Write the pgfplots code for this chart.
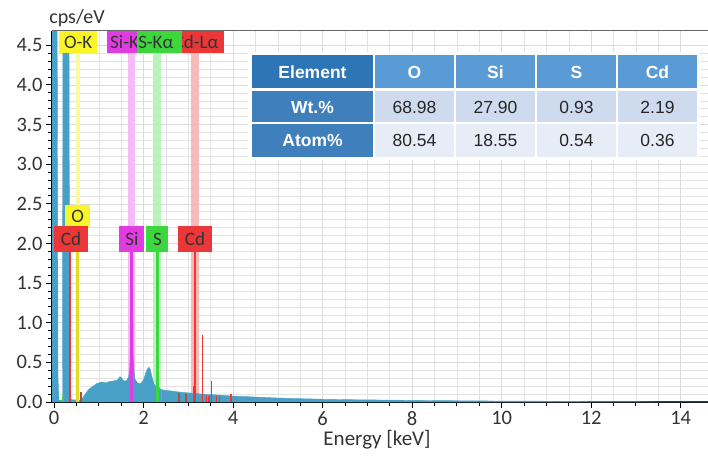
\documentclass[border=0pt]{standalone}
\usepackage{fontspec}
\setmainfont{Carlito}
\newfontfamily\arial{Liberation Sans}
\usepackage{pgfplots}
\pgfplotsset{compat=1.18}
\definecolor{spec}{RGB}{72,160,198}
\definecolor{oyel}{RGB}{250,245,40}
\definecolor{simag}{RGB}{225,60,225}
\definecolor{sgrn}{RGB}{60,215,60}
\definecolor{cdred}{RGB}{235,55,55}
\definecolor{cdbrown}{RGB}{170,80,60}
\definecolor{hdark}{RGB}{46,117,182}
\definecolor{hlight}{RGB}{91,155,213}
\definecolor{rowa}{RGB}{206,219,239}
\definecolor{rowb}{RGB}{231,237,247}
\begin{document}
\begin{tikzpicture}
\useasboundingbox (0,0) rectangle (708pt,455pt);
\begin{axis}[
 at={(52pt,53pt)}, anchor=south west, scale only axis, width=656pt, height=371pt,
 xmin=-0.045, xmax=14.61, ymin=0, ymax=4.68,
 axis x line*=bottom, axis y line*=left,
 axis line style={black, line width=1.2pt},
 xtick={0,2,...,14}, ytick={0,0.5,...,4.5},
 minor x tick num=3, minor y tick num=4,
 tick align=outside, major tick length=6pt, minor tick length=4pt,
 tick style={black, line width=0.9pt},
 grid=both, major grid style={gray!28, line width=0.6pt}, minor grid style={gray!22, line width=0.5pt},
 ticklabel style={font=\fontsize{20.5}{21}\selectfont, text=black!80},
 /pgf/number format/assume math mode=true,
 yticklabel style={/pgf/number format/.cd, fixed, fixed zerofill, precision=1},
 xticklabel style={/pgf/number format/.cd, fixed, precision=0},
]
% pale marker bands
\addplot[draw=oyel!45, line width=4pt, forget plot] coordinates {(0.53,0) (0.53,4.68)};
\addplot[draw=simag!35, line width=7pt, forget plot] coordinates {(1.74,0) (1.74,4.68)};
\addplot[draw=sgrn!35, line width=8pt, forget plot] coordinates {(2.31,0) (2.31,4.68)};
\addplot[draw=cdred!35, line width=8pt, forget plot] coordinates {(3.15,0) (3.15,4.68)};
% spectrum
\addplot[draw=spec, fill=spec, no marks, line width=0.4pt] coordinates {
(-0.045,6) (0.065,6) (0.09,0.3) (0.11,0.02) (0.19,0.02) (0.2,6) (0.33,6) (0.35,0.3) (0.38,0.03)
(0.6,0.02) (0.65,0.06) (0.7,0.1) (0.75,0.14) (0.8,0.17) (0.85,0.19) (0.9,0.21) (0.95,0.23)
(1.0,0.24) (1.05,0.25) (1.1,0.25) (1.15,0.24) (1.2,0.25) (1.25,0.26) (1.3,0.26) (1.35,0.27)
(1.4,0.27) (1.44,0.29) (1.47,0.32) (1.5,0.31) (1.54,0.28) (1.58,0.26) (1.62,0.27) (1.67,0.32)
(1.695,0.45) (1.715,1.0) (1.73,1.9) (1.755,1.9) (1.77,0.6) (1.8,0.3) (1.85,0.25) (1.9,0.23)
(1.95,0.24) (2.0,0.28) (2.04,0.35) (2.08,0.41) (2.12,0.44) (2.15,0.41) (2.19,0.31) (2.23,0.23) (2.27,0.2)
(2.31,0.22) (2.34,0.19) (2.38,0.16) (2.45,0.15) (2.6,0.14) (2.8,0.125) (3.0,0.115) (3.3,0.1)
(3.6,0.09) (4.0,0.075) (4.3,0.068) (4.6,0.06) (5.0,0.05) (5.5,0.042) (6.0,0.035) (6.5,0.03)
(7.0,0.027) (7.5,0.024) (8.0,0.021) (8.5,0.018) (9.0,0.016) (9.5,0.014) (10.0,0.012)
(10.5,0.011) (11.0,0.01) (11.5,0.008) (12.0,0.006) (12.5,0.005) (13.0,0.004) (13.5,0.003)
(14.0,0.002) (14.61,0.002)} \closedcycle;
% Cd peaks coloured
\addplot[ycomb, cdbrown, line width=1.4pt, no marks] coordinates {(2.79,0.11) (2.95,0.1) (0.6,0.12)};
\addplot[ycomb, cdred, line width=1.6pt, no marks] coordinates {(3.13,0.2) (3.32,0.84) (3.41,0.07) (3.46,0.07) (3.52,0.27) (3.63,0.08) (3.7,0.08) (3.95,0.1)};
\addplot[ycomb, sgrn, line width=1.4pt, no marks] coordinates {(0.2,0.08) (2.4,0.15)};
% marker lines
\addplot[ycomb, oyel!90!black, line width=3pt, no marks] coordinates {(0.53,2.19)};
\addplot[ycomb, cdred, line width=2.5pt, no marks] coordinates {(0.36,1.89) (3.15,1.89)};
\addplot[ycomb, simag, line width=3pt, no marks] coordinates {(1.74,1.89)};
\addplot[ycomb, sgrn, line width=3pt, no marks] coordinates {(2.31,1.89)};
% lower labels
\node[fill=oyel, anchor=south, minimum width=25pt, minimum height=23pt, inner sep=0pt, font=\fontsize{19}{19}\selectfont, text=black!80] at (axis cs:0.53,2.19) {O};
\node[fill=cdred, anchor=south, minimum width=34pt, minimum height=26pt, inner sep=0pt, font=\fontsize{19}{19}\selectfont, text=black!80] at (axis cs:0.38,1.89) {Cd};
\node[fill=simag, anchor=south, minimum width=25pt, minimum height=26pt, inner sep=0pt, font=\fontsize{19}{19}\selectfont, text=black!80] at (axis cs:1.74,1.89) {Si};
\node[fill=sgrn, anchor=south, minimum width=22pt, minimum height=26pt, inner sep=0pt, font=\fontsize{19}{19}\selectfont, text=black!80] at (axis cs:2.31,1.89) {S};
\node[fill=cdred, anchor=south, minimum width=34pt, minimum height=26pt, inner sep=0pt, font=\fontsize{19}{19}\selectfont, text=black!80] at (axis cs:3.15,1.89) {Cd};
% top labels
\node[fill=oyel, anchor=north west, minimum width=38pt, minimum height=22pt, inner sep=0pt, font=\fontsize{19}{19}\selectfont, text=black!80] at (axis cs:0.112,4.68) {O-K};
\node[fill=simag, anchor=north west, minimum height=22pt, inner xsep=3pt, inner ysep=0pt, text width=44pt, align=left, font=\fontsize{19}{19}\selectfont, text=black!80] at (axis cs:1.184,4.68) {Si-K};
\node[fill=cdred, anchor=north west, minimum height=22pt, inner xsep=1.5pt, inner ysep=0pt, text width=49pt, align=left, font=\fontsize{19}{19}\selectfont, text=black!80] at (axis cs:2.637,4.68) {Cd-Lα};
\node[fill=sgrn, anchor=north west, minimum height=22pt, inner xsep=1pt, inner ysep=0pt, text width=43pt, align=left, font=\fontsize{19}{19}\selectfont, text=black!80] at (axis cs:1.855,4.68) {S-Kα};
\end{axis}
\begin{scope}[x=1pt, y=-1pt, yshift=455pt]
\draw[black!60, line width=1pt] (52,31) -- (708,31);
\node[font=\fontsize{20}{21}\selectfont, text=black!80] at (77,18) {cps/eV};
\node[font=\fontsize{21}{22}\selectfont, text=black!80] at (377,440) {Energy [keV]};
% table
\fill[white] (248,52) rectangle (700,160);
\fill[hdark] (252,55) rectangle (373,88);
\fill[hlight] (375,55) rectangle (454,88);
\fill[hlight] (456,55) rectangle (535,88);
\fill[hlight] (537,55) rectangle (616,88);
\fill[hlight] (618,55) rectangle (697,88);
\fill[hdark!92!white] (252,91) rectangle (373,122);
\fill[hdark!92!white] (252,124) rectangle (373,157);
\foreach \a/\b in {375/454,456/535,537/616,618/697}{
  \fill[rowa] (\a,91) rectangle (\b,122);
  \fill[rowb] (\a,124) rectangle (\b,157);
}
\begin{scope}[font=\arial\fontsize{17.5}{18}\selectfont]
\node[text=white, font=\arial\bfseries\fontsize{17.5}{18}\selectfont] at (312.5,72) {Element};
\node[text=white, font=\arial\bfseries\fontsize{17.5}{18}\selectfont] at (414.5,72) {O};
\node[text=white, font=\arial\bfseries\fontsize{17.5}{18}\selectfont] at (495.5,72) {Si};
\node[text=white, font=\arial\bfseries\fontsize{17.5}{18}\selectfont] at (576.5,72) {S};
\node[text=white, font=\arial\bfseries\fontsize{17.5}{18}\selectfont] at (657.5,72) {Cd};
\node[text=white, font=\arial\bfseries\fontsize{17.5}{18}\selectfont] at (312.5,107) {Wt.\%};
\node[text=white, font=\arial\bfseries\fontsize{17.5}{18}\selectfont] at (312.5,140.5) {Atom\%};
\node[text=black!85] at (414.5,107) {68.98};
\node[text=black!85] at (495.5,107) {27.90};
\node[text=black!85] at (576.5,107) {0.93};
\node[text=black!85] at (657.5,107) {2.19};
\node[text=black!85] at (414.5,140.5) {80.54};
\node[text=black!85] at (495.5,140.5) {18.55};
\node[text=black!85] at (576.5,140.5) {0.54};
\node[text=black!85] at (657.5,140.5) {0.36};
\end{scope}
\end{scope}
\end{tikzpicture}
\end{document}
